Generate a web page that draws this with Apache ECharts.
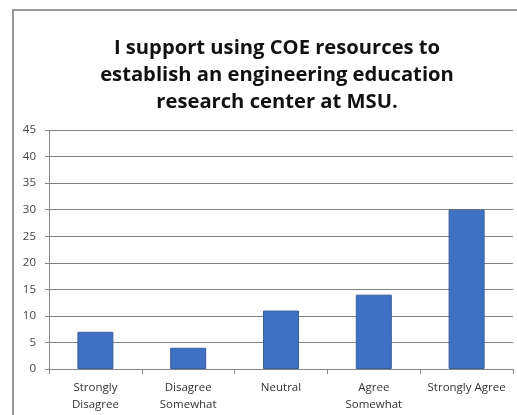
<!DOCTYPE html>
<html>
<head>
<meta charset="utf-8">
<script src="https://cdn.jsdelivr.net/npm/echarts@6/dist/echarts.min.js"></script>
<style>html,body{margin:0;padding:0;background:#fff;}#c{width:517px;height:415px;}</style>
</head>
<body>
<div id="c"></div>
<script>
const categories = ['Strongly\nDisagree', 'Disagree\nSomewhat', 'Neutral', 'Agree\nSomewhat', 'Strongly Agree'];
const values = [7, 4, 11, 14, 30];
const titleText = 'I support using COE resources to\nestablish an engineering education\nresearch center at MSU.';

const chart = echarts.init(document.getElementById('c'));
chart.setOption({
  animation: false,
  graphic: [{
    type: 'polyline',
    shape: { points: [[13, 415], [13, 10], [517, 10]] },
    style: { stroke: '#999', lineWidth: 2, fill: null }
  }],
  title: {
    text: titleText,
    left: 272, top: 30, textAlign: 'center',
    textStyle: { fontFamily: 'Open Sans', fontWeight: 'bold', fontSize: 20.2, lineHeight: 27, color: '#111' }
  },
  grid: { left: 49, right: 4, top: 130, bottom: 46 },
  xAxis: {
    type: 'category', data: categories,
    axisLine: { lineStyle: { color: '#888' } },
    axisTick: { show: true, lineStyle: { color: '#888' }, length: 5 },
    axisLabel: { interval: 0, hideOverlap: false, fontFamily: 'Open Sans', fontSize: 11.5, color: '#333', lineHeight: 17, margin: 10 }
  },
  yAxis: {
    type: 'value', min: 0, max: 45, interval: 5,
    axisLine: { show: true, lineStyle: { color: '#888' } },
    axisTick: { show: true, lineStyle: { color: '#888' }, length: 4 },
    splitLine: { lineStyle: { color: '#808080', width: 1 } },
    axisLabel: { fontFamily: 'Open Sans', fontSize: 11.5, color: '#444', margin: 13 }
  },
  series: [{
    type: 'bar', data: values, barWidth: 36,
    itemStyle: { color: '#3E70C4', borderColor: '#3A5E9A', borderWidth: 1 }
  }]
});
</script>
</body>
</html>
